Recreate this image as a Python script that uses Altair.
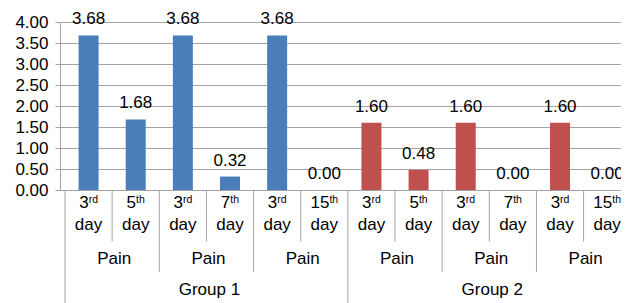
import altair as alt
import pandas as pd

# ---- data ----
groups = ["Group 1"] * 6 + ["Group 2"] * 6
measures = ["Pain"] * 12
day_num = ["3", "5", "3", "7", "3", "15", "3", "5", "3", "7", "3", "15"]
day_sup = ["rd", "th", "rd", "th", "rd", "th", "rd", "th", "rd", "th", "rd", "th"]
day_word = ["day"] * 12
values = [3.68, 1.68, 3.68, 0.32, 3.68, 0.00, 1.60, 0.48, 1.60, 0.00, 1.60, 0.00]
y_ticks = [0.0, 0.5, 1.0, 1.5, 2.0, 2.5, 3.0, 3.5, 4.0]
group_names = ["Group 1", "Group 2"]

# ---- styling ----
BLUE = "#4A7EBB"
RED = "#C0504D"
GRID = "#A3A3A3"
FONT = "Liberation Sans"
FS = 17
SUP_FS = 10.5
CAT_PX = 48          # width of one category in pixels
PLOT_W = 561         # visible plot width (last category is cut off, as in the reference)
PLOT_H = 168

n = len(values)

# approximate glyph advance widths (Arial metrics) for superscript placement
adv = {"r": 0.333, "d": 0.556, "t": 0.278, "h": 0.556}


def sup_offset(num, sup):
    wm = 0.556 * FS * len(num)
    ws = SUP_FS * sum(adv[c] for c in sup)
    return round((wm - ws) / 2, 1)


df = pd.DataFrame({
    "pos": [i + 0.5 for i in range(n)],
    "value": values,
    "group": groups,
    "num": day_num,
    "sup": day_sup,
    "day": day_word,
    "label": [f"{v:.2f}" for v in values],
})
df["off"] = [sup_offset(a, b) for a, b in zip(day_num, day_sup)]

# measure labels (one per pair of categories)
pain_df = pd.DataFrame({
    "pos": [i + 1 for i in range(0, n, 2)],
    "measure": [measures[i] for i in range(0, n, 2)],
})

# group labels
gsize = n // len(group_names)
group_df = pd.DataFrame({
    "pos": [k * gsize + gsize / 2 for k in range(len(group_names))],
    "group": group_names,
})

# category separators
sep_rows = []
for i in range(n):
    if i % gsize == 0:
        lvl = "group"
    elif i % 2 == 0:
        lvl = "pair"
    else:
        lvl = "day"
    sep_rows.append({"pos": i, "level": lvl})
sep_df = pd.DataFrame(sep_rows)

xenc = alt.X("pos:Q", scale=alt.Scale(domain=[0, PLOT_W / CAT_PX], nice=False, zero=False), axis=None)

yaxis = alt.Axis(
    values=y_ticks,
    format=".2f",
    title=None,
    labelFont=FONT,
    labelFontSize=FS,
    labelColor="black",
    labelPadding=7,
    labelOverlap=False,
    tickColor=GRID,
    tickSize=5,
    tickCount=50,
    domainColor=GRID,
    gridColor=GRID,
    gridWidth=1,
    grid=True,
)
yscale = alt.Scale(domain=[0, 4], nice=False, zero=True)

base = alt.Chart(df)

bars = base.mark_bar(size=20).encode(
    x=xenc,
    y=alt.Y("value:Q", scale=yscale, axis=yaxis),
    color=alt.Color("group:N", scale=alt.Scale(domain=group_names, range=[BLUE, RED]), legend=None),
)

value_labels = base.mark_text(
    baseline="alphabetic", dy=-11, font=FONT, fontSize=FS, color="black"
).encode(x=xenc, y=alt.Y("value:Q", scale=yscale, axis=yaxis), text="label:N")

layers = [bars, value_labels]

# day number + superscript
for off in sorted(df["off"].unique()):
    sub = base.transform_filter(alt.datum.off == float(off))
    layers.append(
        sub.mark_text(align="right", baseline="alphabetic", dx=float(off), font=FONT,
                      fontSize=FS, color="black")
        .encode(x=xenc, y=alt.value(186), text="num:N")
    )
    layers.append(
        sub.mark_text(align="left", baseline="alphabetic", dx=float(off), font=FONT,
                      fontSize=SUP_FS, color="black")
        .encode(x=xenc, y=alt.value(181), text="sup:N")
    )

layers.append(
    base.mark_text(baseline="alphabetic", font=FONT, fontSize=FS, color="black")
    .encode(x=xenc, y=alt.value(207.5), text="day:N")
)

layers.append(
    alt.Chart(pain_df).mark_text(baseline="alphabetic", dx=2, font=FONT, fontSize=FS, color="black")
    .encode(x=xenc, y=alt.value(241.5), text="measure:N")
)

layers.append(
    alt.Chart(group_df).mark_text(baseline="alphabetic", dx=3, font=FONT, fontSize=FS, color="black")
    .encode(x=xenc, y=alt.value(272.5), text="group:N")
)

sep_end = {"day": 219.5, "pair": 250, "group": 300}
for lvl, end in sep_end.items():
    layers.append(
        alt.Chart(sep_df).transform_filter(alt.datum.level == lvl)
        .mark_rule(color=GRID, strokeWidth=1)
        .encode(x=xenc, y=alt.value(PLOT_H), y2=alt.value(end))
    )

chart = alt.layer(*layers).properties(
    width=PLOT_W,
    height=PLOT_H,
    autosize=alt.AutoSizeParams(type="none"),
    padding={"left": 52, "top": 14, "right": 0, "bottom": 125},
).configure_view(stroke=None)

chart.save("out.html", embed_options={"renderer": "svg", "actions": False})
